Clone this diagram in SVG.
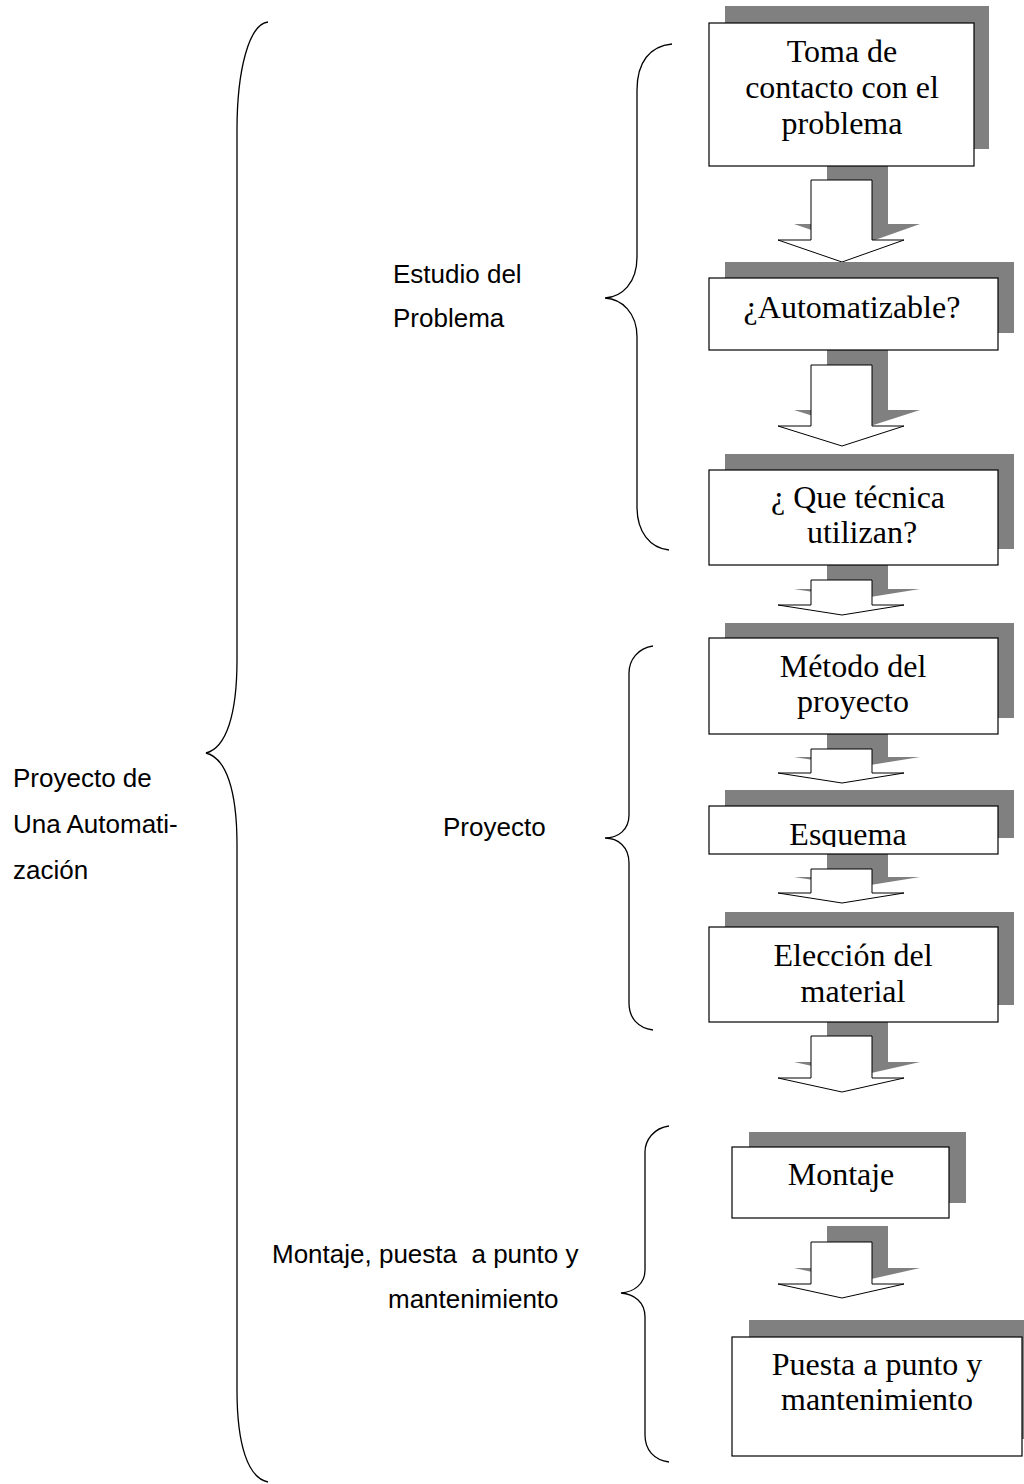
<svg xmlns="http://www.w3.org/2000/svg" width="1024" height="1484" viewBox="0 0 1024 1484">
  <style>
    .bg { fill: #ffffff; }
    .shadow { fill: #808080; stroke: none; }
    .box { fill: #ffffff; stroke: #000000; stroke-width: 1.2; }
    .arrow { fill: #ffffff; stroke: #000000; stroke-width: 1; stroke-linejoin: miter; }
    .brace { fill: none; stroke: #000000; stroke-width: 1.3; }
    .step { font-family: "Liberation Serif", "Times New Roman", serif; font-size: 32px; fill: #000000; text-anchor: middle; }
    .label { font-family: "Liberation Sans", Arial, sans-serif; font-size: 26px; fill: #000000; }
  </style>
  <defs>
    <clipPath id="clip-esquema">
      <rect x="709" y="806" width="289" height="41"/>
    </clipPath>
    <!-- block arrow pointing down, drawn at origin (stem top at y=0) -->
  </defs>

  <rect class="bg" x="0" y="0" width="1024" height="1484"/>

  <!-- braces -->
  <g id="braces">
    <path id="brace-main" class="brace" d="M268,22 C249,24 237,70 237,130 L237,660 C237,715 226,748 206,753 C226,758 237,790 237,845 L237,1390 C237,1445 248,1478 268,1482"/>
    <path id="brace-estudio" class="brace" d="M672,44 C650,46 637,62 637,90 L637,257 C637,283 622,297 605,298 C622,299 637,313 637,337 L637,507 C637,532 650,548 669,550"/>
    <path id="brace-proyecto" class="brace" d="M653,646 C638,648 629,660 629,673 L629,815 C629,830 618,838 605,838 C618,838 629,847 629,863 L629,1003 C629,1018 638,1028 653,1030"/>
    <path id="brace-montaje" class="brace" d="M669,1126 C654,1128 645,1140 645,1152 L645,1270 C645,1284 634,1292 621,1293 C634,1294 645,1302 645,1317 L645,1435 C645,1450 654,1460 669,1462"/>
  </g>

  <!-- group labels -->
  <g id="labels">
    <text class="label" x="13" y="787">Proyecto de</text>
    <text class="label" x="13" y="833">Una Automati-</text>
    <text class="label" x="13" y="879">zación</text>
    <text class="label" x="393" y="283">Estudio del</text>
    <text class="label" x="393" y="327">Problema</text>
    <text class="label" x="443" y="836">Proyecto</text>
    <text class="label" x="272" y="1263" xml:space="preserve" style="white-space:pre">Montaje, puesta  a punto y</text>
    <text class="label" x="388" y="1308">mantenimiento</text>
  </g>

  <!-- connectors: shadowed block arrows between steps -->
  <g id="connectors">
    <g id="arrow-1">
      <polygon class="shadow" points="827,164 888,164 888,224 920,224 858,246 794,224 827,224"/>
      <polygon class="arrow" points="811,180 872,180 872,240 904,240 842,262 778,240 811,240"/>
    </g>
    <g id="arrow-2">
      <polygon class="shadow" points="827,349 888,349 888,410 920,410 858,430 794,410 827,410"/>
      <polygon class="arrow" points="811,365 872,365 872,426 904,426 842,446 778,426 811,426"/>
    </g>
    <g id="arrow-3">
      <polygon class="shadow" points="827,564 888,564 888,589 920,589 858,599 794,589 827,589"/>
      <polygon class="arrow" points="811,580 872,580 872,605 904,605 842,615 778,605 811,605"/>
    </g>
    <g id="arrow-4">
      <polygon class="shadow" points="827,733 888,733 888,757 920,757 858,767 794,757 827,757"/>
      <polygon class="arrow" points="811,749 872,749 872,773 904,773 842,783 778,773 811,773"/>
    </g>
    <g id="arrow-5">
      <polygon class="shadow" points="827,853 888,853 888,877 920,877 858,887 794,877 827,877"/>
      <polygon class="arrow" points="811,869 872,869 872,893 904,893 842,903 778,893 811,893"/>
    </g>
    <g id="arrow-6">
      <polygon class="shadow" points="827,1020 888,1020 888,1062 920,1062 858,1076 794,1062 827,1062"/>
      <polygon class="arrow" points="811,1036 872,1036 872,1078 904,1078 842,1092 778,1078 811,1078"/>
    </g>
    <g id="arrow-7">
      <polygon class="shadow" points="827,1226 888,1226 888,1268 920,1268 858,1282 794,1268 827,1268"/>
      <polygon class="arrow" points="811,1242 872,1242 872,1284 904,1284 842,1298 778,1284 811,1284"/>
    </g>
  </g>

  <!-- steps -->
  <g id="node-toma">
    <rect class="shadow" x="725" y="6" width="264" height="143"/>
    <rect class="box" x="709" y="23" width="265" height="143"/>
    <text class="step" x="842" y="62">Toma de</text>
    <text class="step" x="842" y="98">contacto con el</text>
    <text class="step" x="842" y="134">problema</text>
  </g>

  <g id="node-automatizable">
    <rect class="shadow" x="725" y="262" width="289" height="71"/>
    <rect class="box" x="709" y="278" width="289" height="72"/>
    <text class="step" x="852" y="318">¿Automatizable?</text>
  </g>

  <g id="node-tecnica">
    <rect class="shadow" x="725" y="454" width="289" height="95"/>
    <rect class="box" x="709" y="470" width="289" height="95"/>
    <text class="step" x="858" y="508">¿ Que técnica</text>
    <text class="step" x="862" y="543">utilizan?</text>
  </g>

  <g id="node-metodo">
    <rect class="shadow" x="725" y="623" width="289" height="95"/>
    <rect class="box" x="709" y="638" width="289" height="96"/>
    <text class="step" x="853" y="677">Método del</text>
    <text class="step" x="853" y="712">proyecto</text>
  </g>

  <g id="node-esquema">
    <rect class="shadow" x="725" y="790" width="289" height="48"/>
    <rect class="box" x="709" y="806" width="289" height="48"/>
    <text class="step" x="848" y="845" clip-path="url(#clip-esquema)">Esquema</text>
  </g>

  <g id="node-eleccion">
    <rect class="shadow" x="725" y="912" width="289" height="93"/>
    <rect class="box" x="709" y="927" width="289" height="95"/>
    <text class="step" x="853" y="966">Elección del</text>
    <text class="step" x="853" y="1002">material</text>
  </g>

  <g id="node-montaje">
    <rect class="shadow" x="749" y="1132" width="217" height="71"/>
    <rect class="box" x="732" y="1147" width="217" height="71"/>
    <text class="step" x="841" y="1185">Montaje</text>
  </g>

  <g id="node-puesta">
    <rect class="shadow" x="749" y="1320" width="290" height="119"/>
    <rect class="box" x="732" y="1337" width="290" height="119"/>
    <text class="step" x="877" y="1375">Puesta a punto y</text>
    <text class="step" x="877" y="1410">mantenimiento</text>
  </g>
</svg>
